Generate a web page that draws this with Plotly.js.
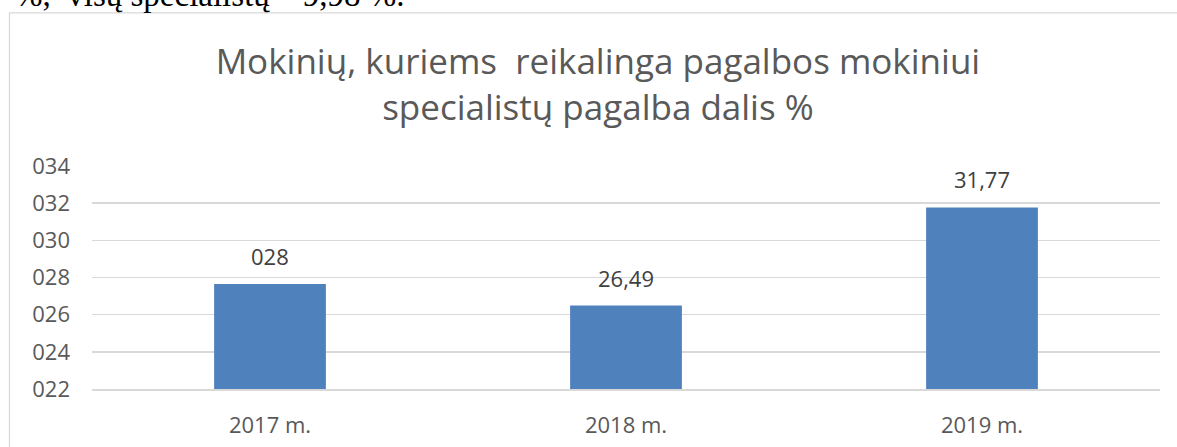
<!DOCTYPE html>
<html>
<head>
<meta charset="utf-8">
<script src="https://cdn.plot.ly/plotly-3.0.1.min.js"></script>
<style>html,body{margin:0;padding:0;background:#fff;overflow:hidden;}#chart{width:1177px;height:447px;}</style>
</head>
<body>
<div id="chart"></div>
<script>
const categories = ["2017 m.", "2018 m.", "2019 m."];
const values = [27.65, 26.49, 31.77];
const valueLabels = ["028", "26,49", "31,77"];
const yTickVals = [22, 24, 26, 28, 30, 32, 34];
const yTickText = ["022", "024", "026", "028", "030", "032", "034"];
const titleText = "Mokinių, kuriems  reikalinga pagalbos mokiniui<br>specialistų pagalba dalis %";
const topText = "%,  visų specialistų – 9,98 %.";

const FONT = "'Open Sans', sans-serif";

const trace = {
  type: "bar",
  x: categories,
  y: values,
  marker: { color: "#4F81BD" },
  hoverinfo: "x+y"
};

const labelAnnotations = categories.map((c, i) => ({
  x: c, y: values[i], xref: "x", yref: "y",
  text: valueLabels[i], showarrow: false,
  yanchor: "bottom", yshift: 11,
  font: { family: FONT, size: 22, color: "#404040" }
}));

const layout = {
  width: 1177, height: 447,
  margin: { l: 92, r: 17, t: 166, b: 57.5, pad: 0 },
  paper_bgcolor: "#ffffff", plot_bgcolor: "#ffffff",
  showlegend: false,
  bargap: 0.686,
  title: {
    text: titleText,
    font: { family: FONT, size: 35, color: "#595959" },
    xref: "container", x: 0.508, xanchor: "center",
    yref: "container", y: 1 - 74/447, yanchor: "middle"
  },
  xaxis: {
    type: "category",
    showgrid: false, zeroline: false,
    showline: true, linecolor: "#D9D9D9", linewidth: 1.5,
    ticks: "", ticklabelstandoff: 16,
    tickfont: { family: FONT, size: 22, color: "#595959" }
  },
  yaxis: {
    range: [22, 34],
    tickvals: yTickVals, ticktext: yTickText,
    showgrid: true, gridcolor: "#D9D9D9", gridwidth: 1.5,
    zeroline: false, showline: false,
    ticks: "", ticklabelstandoff: 21,
    tickfont: { family: FONT, size: 22, color: "#595959" }
  },
  shapes: [{
    type: "rect", xref: "paper", yref: "paper",
    x0: (9.5 - 92) / 1068, x1: 1.5,
    y0: -0.6, y1: 1 + (166 - 12.5) / 223.5,
    line: { color: "#D9D9D9", width: 1.3 },
    fillcolor: "rgba(0,0,0,0)", layer: "below"
  }],
  annotations: labelAnnotations.concat([{
    xref: "paper", yref: "paper",
    x: (13 - 92) / 1068, xanchor: "left",
    y: 1 + (166 - 15) / 223.5, yanchor: "bottom",
    text: topText, showarrow: false,
    font: { family: "'Liberation Serif', 'Times New Roman', serif", size: 33, color: "#000000" }
  }])
};

Plotly.newPlot("chart", [trace], layout, { displayModeBar: false, staticPlot: true });
</script>
</body>
</html>
